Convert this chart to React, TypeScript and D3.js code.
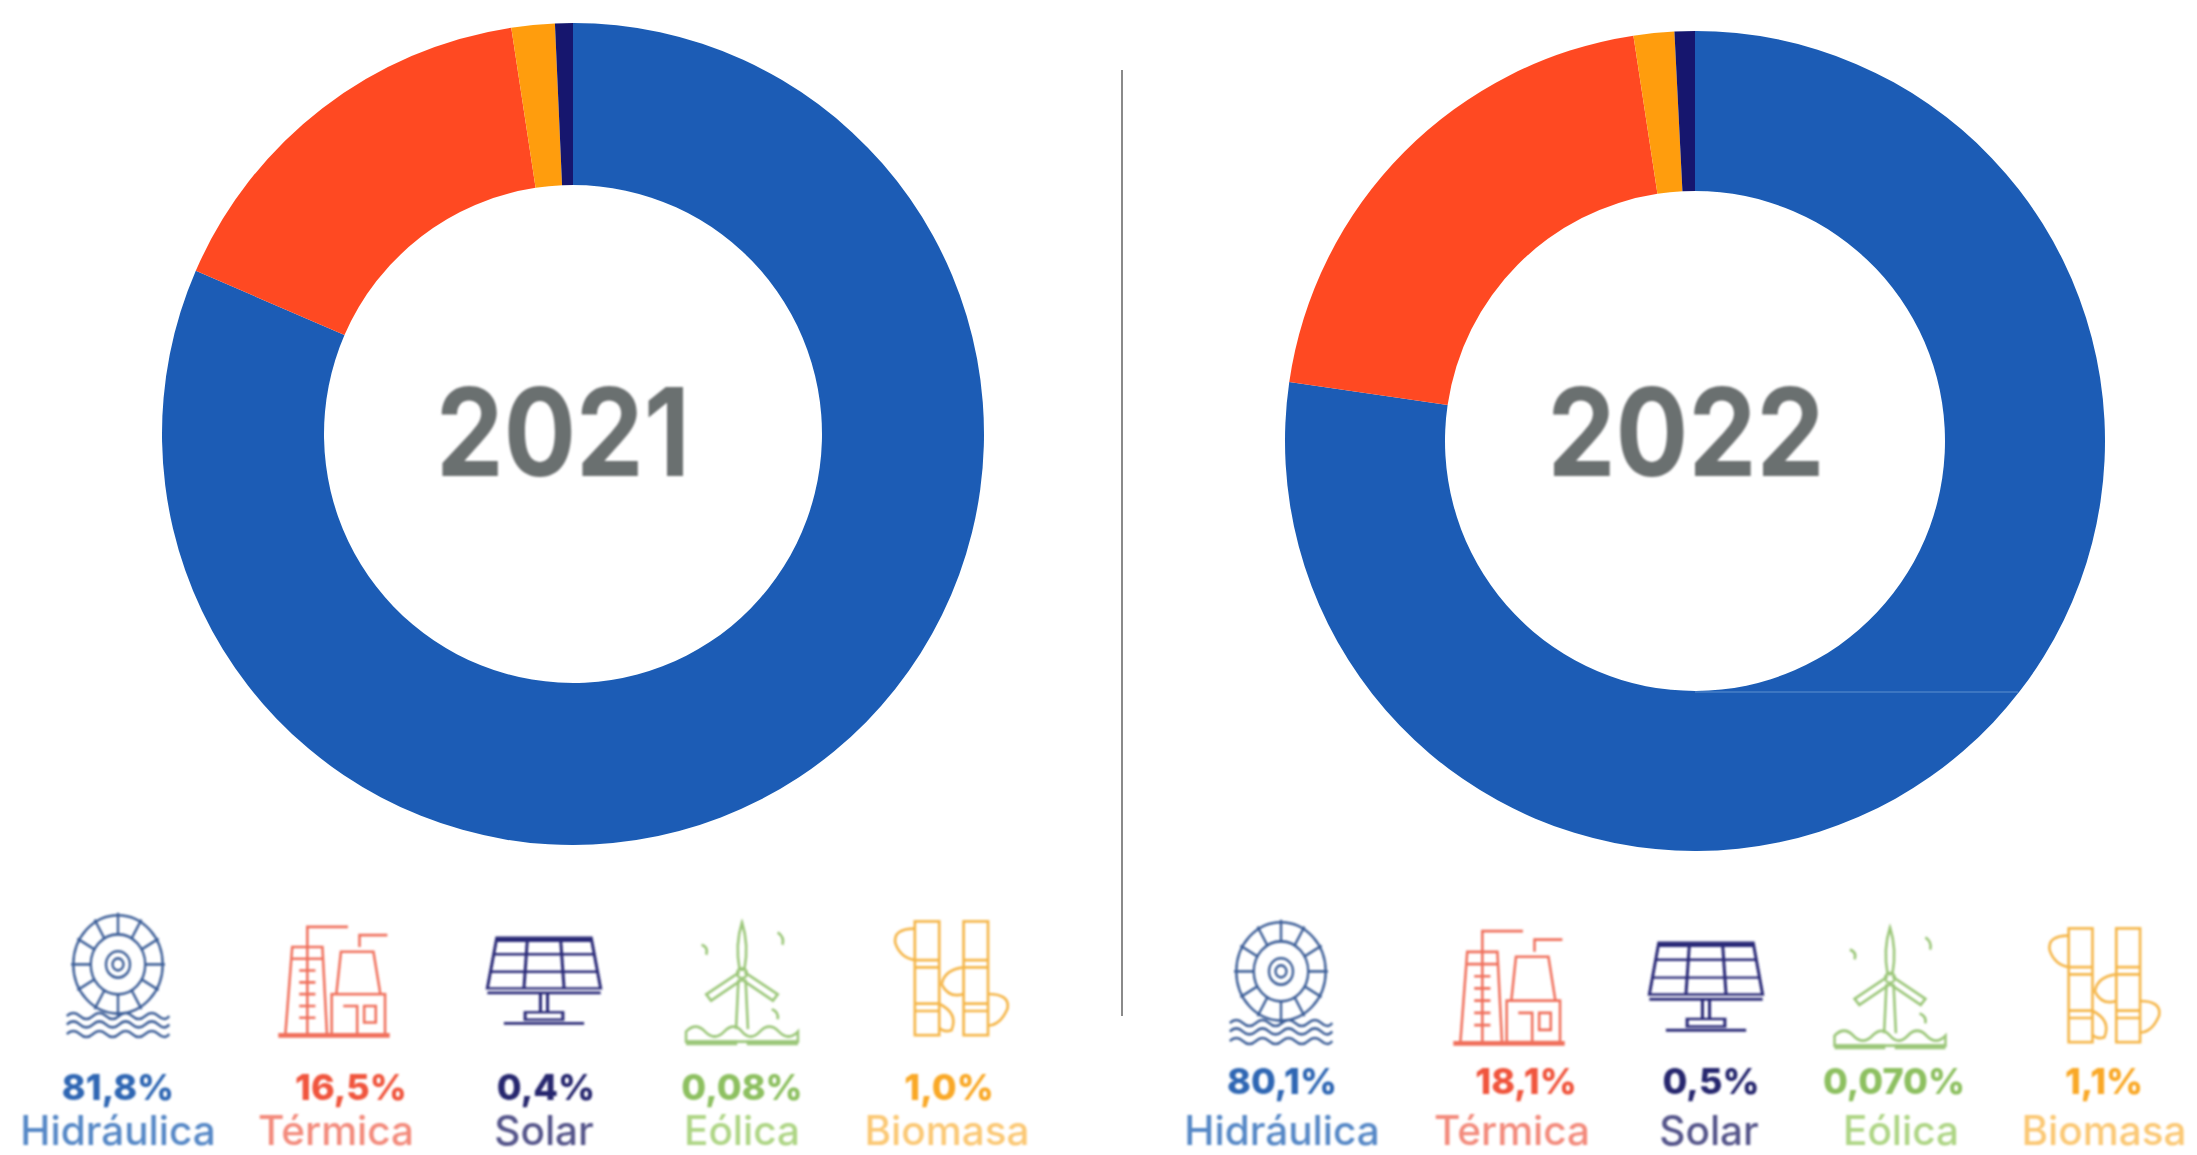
import React from "react";
import * as d3 from "d3";

const sliceNames = ["Hidráulica", "Térmica", "Biomasa", "Solar"];
const sliceColors = ["#1a5cb5", "#ff4a22", "#ff9d0a", "#14186e"];
const ringShares2021 = [81.5, 16.1, 1.7, 0.7];
const ringShares2022 = [77.3, 20.3, 1.6, 0.8];

const legendKinds = ["hydro", "thermal", "solar", "wind", "bio"];
const legendNames = ["Hidráulica", "Térmica", "Solar", "Eólica", "Biomasa"];
const legendValues2021 = ["81,8%", "16,5%", "0,4%", "0,08%", "1,0%"];
const legendValues2022 = ["80,1%", "18,1%", "0,5%", "0,070%", "1,1%"];
const valueColors = ["#2f66b3", "#f0553c", "#25276e", "#8dc060", "#f9a825"];
const nameColors = ["#5587c6", "#f38a7c", "#55558a", "#aed585", "#fbc874"];
const iconColors = ["#3d5f98", "#f0705c", "#2b2b78", "#9cc77a", "#f5b64a"];

const FONT = "Inter, 'Noto Sans', sans-serif";

function Icon({ kind, x, y, w, h, color }: any) {
  const common = { fill: "none", stroke: color, strokeWidth: 2.2 };
  let body: any = null;
  if (kind === "hydro") {
    const ang = d3.range(0, 360, 30);
    body = (
      <g {...common}>
        <circle cx={50} cy={37} r={41} />
        <circle cx={50} cy={37} r={25} />
        <circle cx={50} cy={37} r={11} />
        <circle cx={50} cy={37} r={5} />
        {ang.map((a) => {
          const t = (a * Math.PI) / 180;
          return <line key={a} x1={50 + 25 * Math.cos(t)} y1={37 + 25 * Math.sin(t)} x2={50 + 43 * Math.cos(t)} y2={37 + 43 * Math.sin(t)} />;
        })}
        {[80, 87, 95].map((yy) => (
          <path key={yy} d={`M3 ${yy} q6 -5 12 0 t12 0 t12 0 t12 0 t12 0 t12 0 t12 0 t10 0`} />
        ))}
      </g>
    );
  } else if (kind === "thermal") {
    body = (
      <g {...common}>
        <path d="M8 97 L14 22 H40 L44 97" />
        <path d="M14 32 H40 M27 22 V97" />
        <path d="M20 42 H34 M20 52 H34 M20 62 H34 M20 72 H34 M20 82 H34" />
        <path d="M52 62 L56 26 H84 L90 62" />
        <rect x={48} y={62} width={46} height={34} />
        <path d="M58 72 H70 V96 M76 72 H86 V86 H76 Z" />
        <path d="M2 97 H98" strokeWidth={4} />
        <path d="M27 22 V5 H62 M72 22 V12 H96" />
      </g>
    );
  } else if (kind === "solar") {
    body = (
      <g {...common} strokeWidth={2.6}>
        <path d="M10 3 H90 L98 58 H2 Z" />
        <path d="M7 21 H93 M4 40 H96 M36 3 L33 58 M64 3 L67 58" />
        <path d="M10 5 H90" strokeWidth={5} />
        <path d="M2 63 H98" strokeWidth={3} />
        <path d="M47 63 V84 M53 63 V84" />
        <rect x={34} y={84} width={32} height={8} />
        <path d="M16 96 H84" strokeWidth={3} />
      </g>
    );
  } else if (kind === "wind") {
    body = (
      <g {...common}>
        <path d="M50 2 Q44 20 48 40 H52 Q56 20 50 2 Z" />
        <path d="M48 42 L20 60 L24 65 L50 48" />
        <path d="M52 42 L80 60 L76 65 L50 48" />
        <circle cx={50} cy={43} r={4} />
        <path d="M47 48 L45 88 M53 48 L55 88" />
        <path d="M16 20 q6 2 4 8 M80 10 q6 4 4 10 M75 72 q6 2 5 8" />
        <path d="M3 98 V90 q8 -8 16 0 t16 0 t15 0 t15 0 t16 0 t16 0 V98 Z" />
        <path d="M3 99 H46 M54 99 H97" strokeWidth={4} />
      </g>
    );
  } else {
    body = (
      <g {...common}>
        <rect x={22} y={2} width={20} height={94} />
        <rect x={62} y={2} width={20} height={94} />
        <path d="M22 34 H42 M22 40 H42 M22 70 H42 M22 76 H42 M62 34 H82 M62 40 H82 M62 70 H82 M62 76 H82" />
        <path d="M22 8 Q4 8 6 20 Q10 32 22 34" />
        <path d="M62 40 Q46 42 44 54 Q50 66 62 62" />
        <path d="M82 62 Q100 62 98 74 Q92 88 82 88" />
        <path d="M42 70 Q58 78 52 92 Q46 94 42 90" />
      </g>
    );
  }
  return <g transform={`translate(${x},${y}) scale(${w / 100},${h / 100})`}>{body}</g>;
}

function Donut({ shares, cx, cy, R, r, year, yearX, yearBase, yearWidth }: any) {
  const pie = d3.pie<number>().sort(null).value((d) => d);
  const arc = d3.arc<d3.PieArcDatum<number>>().innerRadius(r).outerRadius(R);
  return (
    <g transform={`translate(${cx},${cy})`}>
      <g filter="url(#ringSoft)">
        {pie(shares).map((a, i) => (
          <path key={sliceNames[i]} d={arc(a) as string} fill={sliceColors[i]} />
        ))}
      </g>
      <text
        x={yearX}
        y={yearBase}
        textAnchor="middle"
        textLength={yearWidth}
        lengthAdjust="spacingAndGlyphs"
        fontFamily={FONT}
        fontWeight={700}
        fontSize={122}
        fill="#6b6f70"
        filter="url(#soft)"
      >
        {year}
      </text>
    </g>
  );
}

function Legend({ layout, values, valueY, nameY }: any) {
  return (
    <g filter="url(#soft)">
      {layout.map((p: any, i: number) => (
        <g key={legendKinds[i]}>
          <Icon kind={legendKinds[i]} x={p.ix - p.iw / 2} y={p.iy} w={p.iw} h={p.ih} color={iconColors[i]} />
          <text x={p.vx} y={valueY} textAnchor="middle" fontFamily={FONT} fontWeight={800} fontSize={36} fill={valueColors[i]}>
            {values[i]}
          </text>
          <text x={p.nx} y={nameY} textAnchor="middle" fontFamily={FONT} fontWeight={500} fontSize={40.5} fill={nameColors[i]}>
            {legendNames[i]}
          </text>
        </g>
      ))}
    </g>
  );
}

const layout2021 = [
  { ix: 118, iy: 920, iw: 109, ih: 120, vx: 118, nx: 118 },
  { ix: 334, iy: 921, iw: 116, ih: 118, vx: 351, nx: 336 },
  { ix: 544, iy: 935, iw: 118, ih: 92, vx: 546, nx: 544 },
  { ix: 742, iy: 920, iw: 119, ih: 124, vx: 742, nx: 742 },
  { ix: 949, iy: 919, iw: 122, ih: 121, vx: 949, nx: 947 },
];
const layout2022 = [
  { ix: 1281, iy: 927, iw: 109, ih: 120, vx: 1282, nx: 1282 },
  { ix: 1509, iy: 925, iw: 116, ih: 122, vx: 1526, nx: 1512 },
  { ix: 1706, iy: 940, iw: 118, ih: 94, vx: 1711, nx: 1709 },
  { ix: 1890, iy: 925, iw: 118, ih: 123, vx: 1894, nx: 1901 },
  { ix: 2102, iy: 926, iw: 119, ih: 121, vx: 2104, nx: 2104 },
];

export default function App() {
  return (
    <svg
      width={2197}
      height={1155}
      viewBox="0 0 2197 1155"
      style={{ position: "absolute", left: 0, top: 0, display: "block", background: "#fff" }}
    >
      <defs>
        <filter id="soft" x="-5%" y="-5%" width="110%" height="110%">
          <feGaussianBlur stdDeviation="1.3" />
        </filter>
        <filter id="ringSoft" x="-2%" y="-2%" width="104%" height="104%">
          <feGaussianBlur stdDeviation="0.7" />
        </filter>
      </defs>
      <Donut shares={ringShares2021} cx={573} cy={434} R={411} r={249} year="2021" yearX={-10} yearBase={42} yearWidth={254} />
      <Donut shares={ringShares2022} cx={1695} cy={441} R={410} r={250} year="2022" yearX={-9} yearBase={35} yearWidth={277} />
      <line x1={1695} x2={2018} y1={692} y2={692} stroke="#5d8fd0" strokeWidth={1.2} />
      <line x1={1122} x2={1122} y1={70} y2={1016} stroke="#8a8a8a" strokeWidth={2} />
      <Legend layout={layout2021} values={legendValues2021} valueY={1100} nameY={1145} />
      <Legend layout={layout2022} values={legendValues2022} valueY={1094} nameY={1145} />
    </svg>
  );
}
